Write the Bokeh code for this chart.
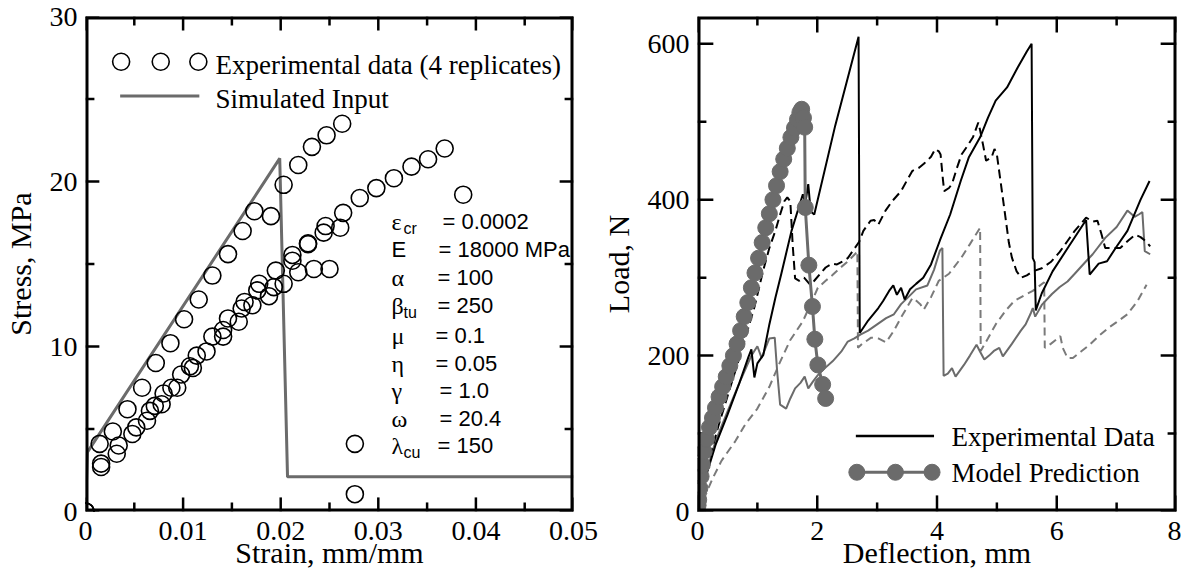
from bokeh.plotting import figure
from bokeh.models import Range1d, FixedTicker, Label, BoxAnnotation
from bokeh.layouts import row
from bokeh.embed import file_html
from bokeh.resources import INLINE

SERIF = "Liberation Serif"
SANS = "Liberation Sans"
GRAY = "#6b6b6b"
GRAY_D = "#7a7a7a"

# ---------------- Left panel: stress-strain ----------------
strain_ticks = [0, 0.01, 0.02, 0.03, 0.04, 0.05]
strain_tick_labels = ["0", "0.01", "0.02", "0.03", "0.04", "0.05"]
strain_minor_ticks = [0.005, 0.015, 0.025, 0.035, 0.045]
stress_ticks = [0, 10, 20, 30]
stress_tick_labels = ["0", "10", "20", "30"]
stress_minor_ticks = [5, 15, 25]

rep1_strain = [0, 0.00145, 0.0028, 0.0043, 0.0058, 0.0072, 0.0087, 0.0101, 0.0116, 0.0130,
               0.0146, 0.0161, 0.0173, 0.0190, 0.0203, 0.0218, 0.0232, 0.0247, 0.0263, 0.0276]
rep1_stress = [0, 4.1, 4.85, 6.2, 7.5, 9.0, 10.2, 11.65, 12.85, 14.3,
               15.6, 17.0, 18.2, 17.9, 19.8, 21.0, 22.1, 22.8, 23.5, 4.1]
rep2_strain = [0, 0.0016, 0.0034, 0.0052, 0.0066, 0.0080, 0.0098, 0.0114, 0.0130, 0.0146, 0.0163,
               0.0178, 0.0195, 0.0212, 0.0228, 0.0246, 0.0264, 0.0281, 0.0298, 0.0316, 0.0334,
               0.0351, 0.0368, 0.0387]
rep2_stress = [0, 2.9, 4.0, 5.1, 6.1, 7.15, 8.3, 9.45, 10.6, 11.7, 12.7,
               13.8, 14.6, 15.55, 16.2, 17.3, 18.1, 19.0, 19.6, 20.2, 20.9,
               21.35, 22.0, 19.2]
rep3_strain = [0, 0.0016, 0.0032, 0.0048, 0.0063, 0.0078, 0.0094, 0.0110, 0.0124, 0.0141,
               0.0157, 0.0171, 0.0188, 0.0203, 0.0218, 0.0234, 0.0250, 0.0276]
rep3_stress = [0, 2.7, 3.5, 4.7, 5.5, 6.5, 7.5, 8.7, 9.7, 10.6,
               11.5, 12.5, 13.05, 13.8, 14.5, 14.7, 14.7, 1.05]
rep4_strain = [0, 0.0071, 0.0088, 0.0107, 0.0141, 0.0160, 0.0176, 0.0193, 0.0212, 0.0228,
               0.0244, 0.0261]
rep4_stress = [0, 6.4, 7.5, 8.8, 11.0, 12.3, 13.4, 13.6, 15.2, 16.25, 16.9, 17.2]

sim_strain = [0, 0.0002, 0.0199, 0.0207, 0.05]
sim_stress = [0, 3.6, 21.4, 2.1, 2.1]

left_axis_titles = ["Strain, mm/mm", "Stress, MPa"]
left_legend_labels = ["Experimental data (4 replicates)", "Simulated Input"]
param_names = ["ε", "E", "α", "β", "μ", "η", "γ", "ω", "λ"]
param_subs = ["cr", "", "", "tu", "", "", "", "", "cu"]
param_values = ["= 0.0002", "= 18000 MPa", "= 100", "= 250", "= 0.1", "= 0.05",
                "= 1.0", "= 20.4", "= 150"]

# ---------------- Right panel: load-deflection ----------------
defl_ticks = [0, 2, 4, 6, 8]
defl_tick_labels = ["0", "2", "4", "6", "8"]
defl_minor_ticks = [1, 3, 5, 7]
load_ticks = [0, 200, 400, 600]
load_tick_labels = ["0", "200", "400", "600"]
load_minor_ticks = [100, 300, 500]

exp1_defl = [0, 0.1, 0.3, 0.5, 0.7, 0.85, 0.9, 0.95, 1.0, 1.1, 1.2, 1.3, 1.4, 1.57, 1.76, 1.8,
             1.85, 1.89, 1.95, 2.3, 2.69, 2.71, 2.85, 3.02, 3.1, 3.2, 3.27, 3.33, 3.4, 3.46,
             3.55, 3.65, 3.77, 3.9, 4.05, 4.22, 4.4, 4.53, 4.72, 4.85, 4.98, 5.17, 5.35, 5.5,
             5.58, 5.6, 5.63, 5.65, 5.75, 5.93, 6.2, 6.49, 6.55, 6.7, 6.84, 7.0, 7.18, 7.4, 7.55]
exp1_load = [0, 35, 85, 124, 165, 198, 208, 172, 190, 201, 240, 274, 305, 360, 407, 395,
             420, 385, 381, 495, 609, 229, 245, 261, 270, 283, 290, 278, 287, 272,
             285, 292, 300, 317, 348, 381, 425, 454, 480, 505, 527, 544, 570, 590,
             600, 325, 320, 258, 280, 308, 340, 374, 304, 318, 321, 340, 360, 400, 424]

exp2_defl = [0, 0.15, 0.35, 0.55, 0.75, 0.95, 1.1, 1.2, 1.3, 1.38, 1.45, 1.5, 1.55, 1.59, 1.63,
             1.7, 1.78, 1.88, 1.95, 2.05, 2.14, 2.25, 2.33, 2.45, 2.51, 2.6, 2.7, 2.77, 2.89,
             2.95, 3.02, 3.14, 3.25, 3.4, 3.5, 3.59, 3.7, 3.78, 3.9, 3.97, 4.03, 4.06, 4.1,
             4.12, 4.2, 4.25, 4.33, 4.41, 4.5, 4.6, 4.69, 4.72, 4.77, 4.82, 4.91, 4.96, 5.0,
             5.05, 5.13, 5.2, 5.25, 5.33, 5.41, 5.5, 5.6, 5.75, 5.9, 6.05, 6.18, 6.3, 6.49,
             6.6, 6.68, 6.75, 6.81, 6.95, 7.06, 7.2, 7.31, 7.4, 7.5, 7.56]
exp2_load = [0, 55, 110, 160, 210, 262, 310, 338, 360, 381, 398, 403, 398, 342, 299,
             296, 300, 291, 296, 305, 313, 318, 317, 322, 325, 335, 346, 360, 373,
             374, 368, 386, 398, 411, 425, 437, 441, 446, 455, 465, 462, 458, 425,
             411, 415, 420, 440, 458, 468, 480, 499, 489, 470, 450, 454, 465, 458,
             430, 385, 345, 326, 308, 300, 303, 308, 312, 320, 333, 347, 360, 377,
             372, 373, 355, 338, 338, 338, 348, 355, 352, 346, 340]

exp3_defl = [0, 0.1, 0.3, 0.5, 0.7, 0.9, 1.0, 1.07, 1.2, 1.29, 1.33, 1.38, 1.48, 1.55, 1.63,
             1.72, 1.79, 1.85, 1.93, 2.01, 2.1, 2.26, 2.4, 2.51, 2.62, 2.72, 2.85, 3.0, 3.15,
             3.28, 3.4, 3.52, 3.65, 3.84, 3.95, 4.05, 4.09, 4.11, 4.18, 4.25, 4.31, 4.45,
             4.55, 4.66, 4.72, 4.79, 4.87, 4.95, 5.04, 5.1, 5.25, 5.4, 5.48, 5.57, 5.6, 5.64,
             5.75, 5.92, 6.05, 6.18, 6.3, 6.49, 6.6, 6.81, 7.0, 7.18, 7.3, 7.37, 7.43, 7.47, 7.56]
exp3_load = [0, 38, 90, 128, 165, 200, 212, 197, 222, 223, 180, 137, 132, 145, 158,
             165, 173, 158, 167, 175, 182, 193, 205, 218, 222, 227, 232, 240, 248,
             253, 266, 275, 285, 290, 310, 335, 338, 174, 177, 184, 173, 188,
             200, 214, 205, 195, 200, 206, 210, 199, 215, 232, 240, 255, 261, 250,
             265, 279, 288, 295, 305, 321, 330, 351, 365, 386, 378, 381, 384, 334, 330]

exp4_defl = [0, 0.1, 0.25, 0.4, 0.63, 0.8, 1.0, 1.2, 1.38, 1.55, 1.76, 1.9, 2.01, 2.14, 2.25,
             2.39, 2.5, 2.64, 2.67, 2.68, 2.75, 2.9, 3.02, 3.15, 3.28, 3.4, 3.5, 3.59, 3.66,
             3.72, 3.78, 3.9, 4.03, 4.2, 4.41, 4.55, 4.72, 4.73, 4.85, 4.98, 5.15, 5.29, 5.45,
             5.6, 5.79, 5.8, 5.9, 6.0, 6.06, 6.1, 6.18, 6.27, 6.4, 6.55, 6.7, 6.87, 7.0, 7.18,
             7.35, 7.5]
exp4_load = [0, 15, 42, 65, 90, 112, 132, 160, 192, 220, 244, 268, 287, 296, 303,
             313, 320, 331, 334, 210, 215, 223, 222, 217, 232, 249, 262, 274, 270,
             266, 259, 275, 296, 305, 326, 343, 364, 206, 222, 240, 258, 270, 277,
             283, 294, 210, 215, 221, 225, 210, 197, 197, 205, 214, 225, 236, 243, 253,
             270, 291]

model_defl = [0, 0.01, 0.02, 0.04, 0.06, 0.08, 0.11, 0.15, 0.20, 0.25, 0.30, 0.36, 0.42, 0.48,
              0.54, 0.60, 0.66, 0.72, 0.78, 0.84, 0.90, 0.96, 1.02, 1.08, 1.14, 1.20, 1.26,
              1.32, 1.38, 1.44, 1.50, 1.56, 1.62, 1.67, 1.71, 1.74, 1.77, 1.79, 1.80, 1.86,
              1.92, 1.96, 2.01, 2.09, 2.14]
model_load = [0, 8, 15, 30, 45, 60, 77, 93, 108, 120, 133, 147, 160, 173,
              187, 200, 215, 232, 250, 268, 287, 306, 325, 345, 364, 382, 400,
              418, 436, 452, 466, 480, 492, 503, 512, 516, 505, 493, 390, 316,
              263, 221, 188, 163, 145]

right_axis_titles = ["Deflection, mm", "Load, N"]
right_legend_labels = ["Experimental Data", "Model Prediction"]

FIG_H = 571
B_TOP = 16
B_BOT = 57
FH = 492          # expected drawn frame height


def style_axis(ax, ticks, labels, minor):
    ax.ticker = FixedTicker(ticks=ticks, minor_ticks=minor)
    ax.major_label_overrides = {t: l for t, l in zip(ticks, labels)}
    ax.axis_line_color = None            # the frame box draws the axis lines
    ax.major_tick_in = 0
    ax.major_tick_out = 0
    ax.minor_tick_in = 0
    ax.minor_tick_out = 0
    ax.major_label_text_font = SERIF
    ax.major_label_text_color = "black"
    ax.major_label_text_font_size = "28px"
    ax.axis_label_text_font = SERIF
    ax.axis_label_text_font_size = "30px"
    ax.axis_label_text_font_style = "normal"
    ax.axis_label_text_color = "black"


def add_inner_ticks(p, fw, fh, xt, yt, major_len, minor_len):
    xmaj, _, xmin = xt
    ymaj, _, ymin = yt
    kw = dict(line_color="black", line_width=2.5, line_cap="butt")
    for ticks, ln in [(xmaj, major_len), (xmin, minor_len)]:
        n = len(ticks)
        p.segment(x0=ticks, x1=ticks, y0=[0] * n, y1=[ln] * n, y_range_name="py", **kw)
        p.segment(x0=ticks, x1=ticks, y0=[fh] * n, y1=[fh - ln] * n, y_range_name="py", **kw)
    for ticks, ln in [(ymaj, major_len), (ymin, minor_len)]:
        n = len(ticks)
        p.segment(x0=[0] * n, x1=[ln] * n, y0=ticks, y1=ticks, x_range_name="px", **kw)
        p.segment(x0=[fw] * n, x1=[fw - ln] * n, y0=ticks, y1=ticks, x_range_name="px", **kw)


def make_fig(width, xr, yr, titles, xt, yt, tick_len, mbl, mbr):
    p = figure(width=width, height=FIG_H, x_range=Range1d(*xr), y_range=Range1d(*yr),
               output_backend="svg", toolbar_location=None,
               min_border_left=mbl, min_border_right=mbr, min_border_top=B_TOP,
               min_border_bottom=B_BOT, x_axis_label=titles[0], y_axis_label=titles[1])
    p.grid.visible = False
    p.outline_line_color = None
    p.background_fill_color = None
    p.border_fill_color = None
    bottom, left = p.below[0], p.left[0]
    style_axis(bottom, *xt)
    style_axis(left, *yt)
    bottom.major_label_standoff = 10
    bottom.axis_label_standoff = -7
    left.major_label_standoff = 8
    left.axis_label_standoff = 10
    fw = width - mbl - mbr
    p.extra_x_ranges = {"px": Range1d(0, fw)}
    p.extra_y_ranges = {"py": Range1d(0, FH)}
    p.add_layout(BoxAnnotation(fill_color=None, fill_alpha=0, line_color="black",
                               line_alpha=1.0, line_width=6))
    add_inner_ticks(p, fw, FH, xt, yt, tick_len, 9)
    return p


# ---------------- Left figure ----------------
p1 = make_fig(598, (0, 0.05), (0, 30), left_axis_titles,
              (strain_ticks, strain_tick_labels, strain_minor_ticks),
              (stress_ticks, stress_tick_labels, stress_minor_ticks),
              14, 80, 25)

p1.line(sim_strain, sim_stress, line_color=GRAY, line_width=3)
for xs, ys in [(rep1_strain, rep1_stress), (rep2_strain, rep2_stress),
               (rep3_strain, rep3_stress), (rep4_strain, rep4_stress)]:
    p1.scatter(xs, ys, marker="circle", size=17, fill_color=None,
               line_color="black", line_width=1.6)

# legend (frame pixel coordinates)
p1.scatter([36, 76, 114], [447, 447, 447], marker="circle", size=17, fill_color=None,
           line_color="black", line_width=1.6, x_range_name="px", y_range_name="py")
p1.line([35, 115], [413, 413], line_color=GRAY, line_width=3,
        x_range_name="px", y_range_name="py")
for lab, ly in zip(left_legend_labels, [447, 413]):
    p1.add_layout(Label(x=130, y=ly, x_units="screen", y_units="screen", text=lab,
                        text_font=SERIF, text_font_size="27px", text_baseline="middle",
                        text_color="black"))

# parameter block
row_y = [290, 262, 234, 206, 176, 148, 121, 93, 66]
val_x = [357, 353, 352, 352, 350, 350, 354, 354, 352]
for name, sub, val, yy, vx in zip(param_names, param_subs, param_values, row_y, val_x):
    is_latin = name == "E"
    p1.add_layout(Label(x=306, y=yy, x_units="screen", y_units="screen", text=name,
                        text_font=SANS if is_latin else SERIF,
                        text_font_size="22px" if is_latin else "24px",
                        text_baseline="middle", text_color="black"))
    if sub:
        p1.add_layout(Label(x=318, y=yy - 7, x_units="screen", y_units="screen", text=sub,
                            text_font=SANS, text_font_size="16px", text_baseline="middle",
                            text_color="black"))
    p1.add_layout(Label(x=vx, y=yy, x_units="screen", y_units="screen", text=val,
                        text_font=SANS, text_font_size="22px", text_baseline="middle",
                        text_color="black"))

# ---------------- Right figure ----------------
p2 = make_fig(583, (0, 8), (0, 635), right_axis_titles,
              (defl_ticks, defl_tick_labels, defl_minor_ticks),
              (load_ticks, load_tick_labels, load_minor_ticks),
              16, 94, 5)

p2.line(exp4_defl, exp4_load, line_color=GRAY_D, line_width=2, line_dash="8 5")
p2.line(exp3_defl, exp3_load, line_color=GRAY, line_width=2)
p2.line(exp2_defl, exp2_load, line_color="black", line_width=2, line_dash="9 5")
p2.line(exp1_defl, exp1_load, line_color="black", line_width=2)
p2.line(model_defl, model_load, line_color=GRAY, line_width=3)
p2.scatter(model_defl, model_load, marker="circle", size=16, fill_color=GRAY,
           line_color=GRAY)

# legend (frame pixel coordinates)
p2.line([160, 239], [75, 75], line_color="black", line_width=2.5,
        x_range_name="px", y_range_name="py")
p2.line([161, 237], [39, 39], line_color=GRAY, line_width=3,
        x_range_name="px", y_range_name="py")
p2.scatter([161, 200, 237], [39, 39, 39], marker="circle", size=16, fill_color=GRAY,
           line_color=GRAY, x_range_name="px", y_range_name="py")
for lab, ly in zip(right_legend_labels, [75, 39]):
    p2.add_layout(Label(x=254, y=ly, x_units="screen", y_units="screen", text=lab,
                        text_font=SERIF, text_font_size="27px", text_baseline="middle",
                        text_color="black"))

layout = row(p1, p2, spacing=0)
open("out.html", "w").write(file_html(layout, INLINE))
